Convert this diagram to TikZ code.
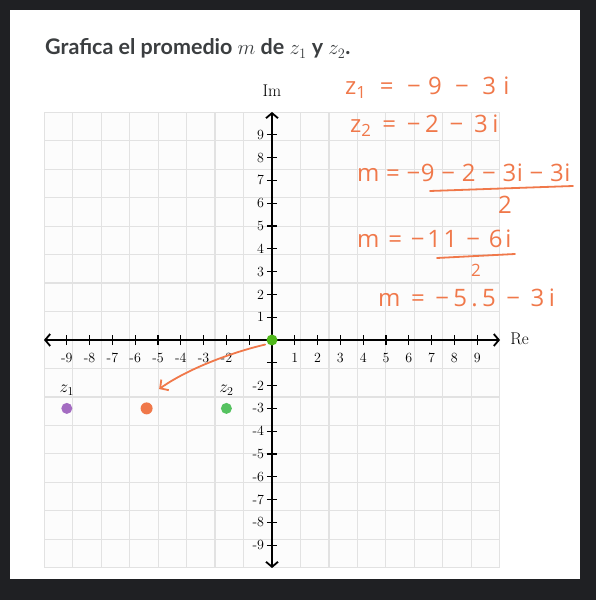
\documentclass[tikz,border=0pt]{standalone}
\usepackage{amsmath,amssymb}
\usepackage{fontspec}
\usepackage{xcolor}
\usepackage{tikz}
\usetikzlibrary{arrows.meta, positioning}
\newfontfamily\latofont{Lato}
\newfontfamily\handfont{Open Sans}
\definecolor{framedark}{HTML}{1F2023}
\definecolor{titlegray}{HTML}{3B3E40}
\definecolor{gridgray}{HTML}{E2E2E2}
\definecolor{penorange}{HTML}{F0784A}
\definecolor{zpurple}{HTML}{A46CC2}
\definecolor{zgreen}{HTML}{55C260}
\definecolor{origingreen}{HTML}{4FB81A}
\tikzset{
  gridline/.style={draw=gridgray, line width=1.3pt},
  axisline/.style={line width=1.8pt, {Straight Barb[length=5pt,width=12pt]}-{Straight Barb[length=5pt,width=12pt]}},
  tickmark/.style={line width=1.3pt},
  ticklabel/.style={font=\fontsize{14}{16}\selectfont, inner sep=1pt},
  axislabel/.style={font=\fontsize{17}{19}\selectfont},
  dot/.style={circle, inner sep=0pt, minimum size=11pt},
  pen/.style={text=penorange, font=\handfont\addfontfeature{LetterSpace=#1}\fontsize{24}{26}\selectfont, inner sep=0pt},
  penline/.style={draw=penorange, line width=1.8pt, line cap=round}
}
\begin{document}
\begin{tikzpicture}
\useasboundingbox (0,0) rectangle (596pt,600pt);
\fill[framedark] (0,0) rectangle (596pt,600pt);
\fill[white] (10pt,21pt) rectangle (580pt,590pt);
\node[anchor=base west, text=titlegray, font=\latofont\bfseries\fontsize{21.5}{25}\selectfont, inner sep=0pt] (title) at (45pt,545pt) {Grafica el promedio $m$ de $z_1$ y $z_2$.};
% the complex plane
\begin{scope}[shift={(272pt,260pt)}, x=22.8pt, y=22.8pt]
\fill[gray!2] (-10,-10) rectangle (10,10);
\draw[gridline] (-10,-10) grid (10,10);
\draw[axisline] (-10,0) -- (10,0);
\draw[axisline] (0,-10) -- (0,10);
\foreach \k in {-9,...,-1,1,2,...,9} {
  \draw[tickmark] (\k,-0.22) -- (\k,0.22);
  \draw[tickmark] (-0.22,\k) -- (0.22,\k);
}
\foreach \k in {-9,...,-2,1,2,...,9} {
  \node[ticklabel] at (\k,-0.78) {\k};
  \node[ticklabel, anchor=east] at (-0.3,\k) {\k};
}
\node[axislabel] (im) at (0,10.95) {Im};
\node[axislabel, anchor=west] (re) at (10.3,0.05) {Re};
% points
\node[dot, fill=origingreen] (o) at (0,0) {};
\node[dot, fill=zpurple] (z1) at (-9,-3) {};
\node[dot, fill=zgreen] (z2) at (-2,-3) {};
\node[dot, fill=penorange, minimum size=12pt] (m) at (-5.5,-3) {};
\node[axislabel, above=4pt of z1] (z1lab) {$z_1$};
\node[axislabel, above=4pt of z2] (z2lab) {$z_2$};
% hand drawn arrow
\coordinate (arrowstart) at (-0.3,-0.2);
\coordinate (arrowtip) at (-4.95,-2.15);
\draw[penline, -{Straight Barb[length=6pt,width=13pt]}] (arrowstart) .. controls (-1.6,-0.5) and (-3.6,-1.2) .. (arrowtip);
\end{scope}
% hand written work
\node[pen=30, anchor=west] (eq1) at (345pt,512pt) {z\textsubscript{1} = −9 − 3i};
\node[pen=19, anchor=west] (eq2) at (350pt,474pt) {z\textsubscript{2} = −2 − 3i};
\node[pen=2, anchor=west] (eq3) at (357pt,427pt) {m = −9 − 2 − 3i − 3i};
\draw[penline] (430pt,409pt) -- (573pt,414pt);
\node[pen=0] (den3) at (505pt,395pt) {2};
\node[pen=11, anchor=west] (eq4) at (357pt,361pt) {m = −11 − 6i};
\draw[penline] (437pt,342pt) -- (515pt,346pt);
\node[pen=0, font=\handfont\fontsize{17}{19}\selectfont] (den4) at (476pt,330pt) {2};
\node[pen=18, anchor=west] (eq5) at (378pt,302pt) {m = −5.5 − 3i};
\end{tikzpicture}
\end{document}
